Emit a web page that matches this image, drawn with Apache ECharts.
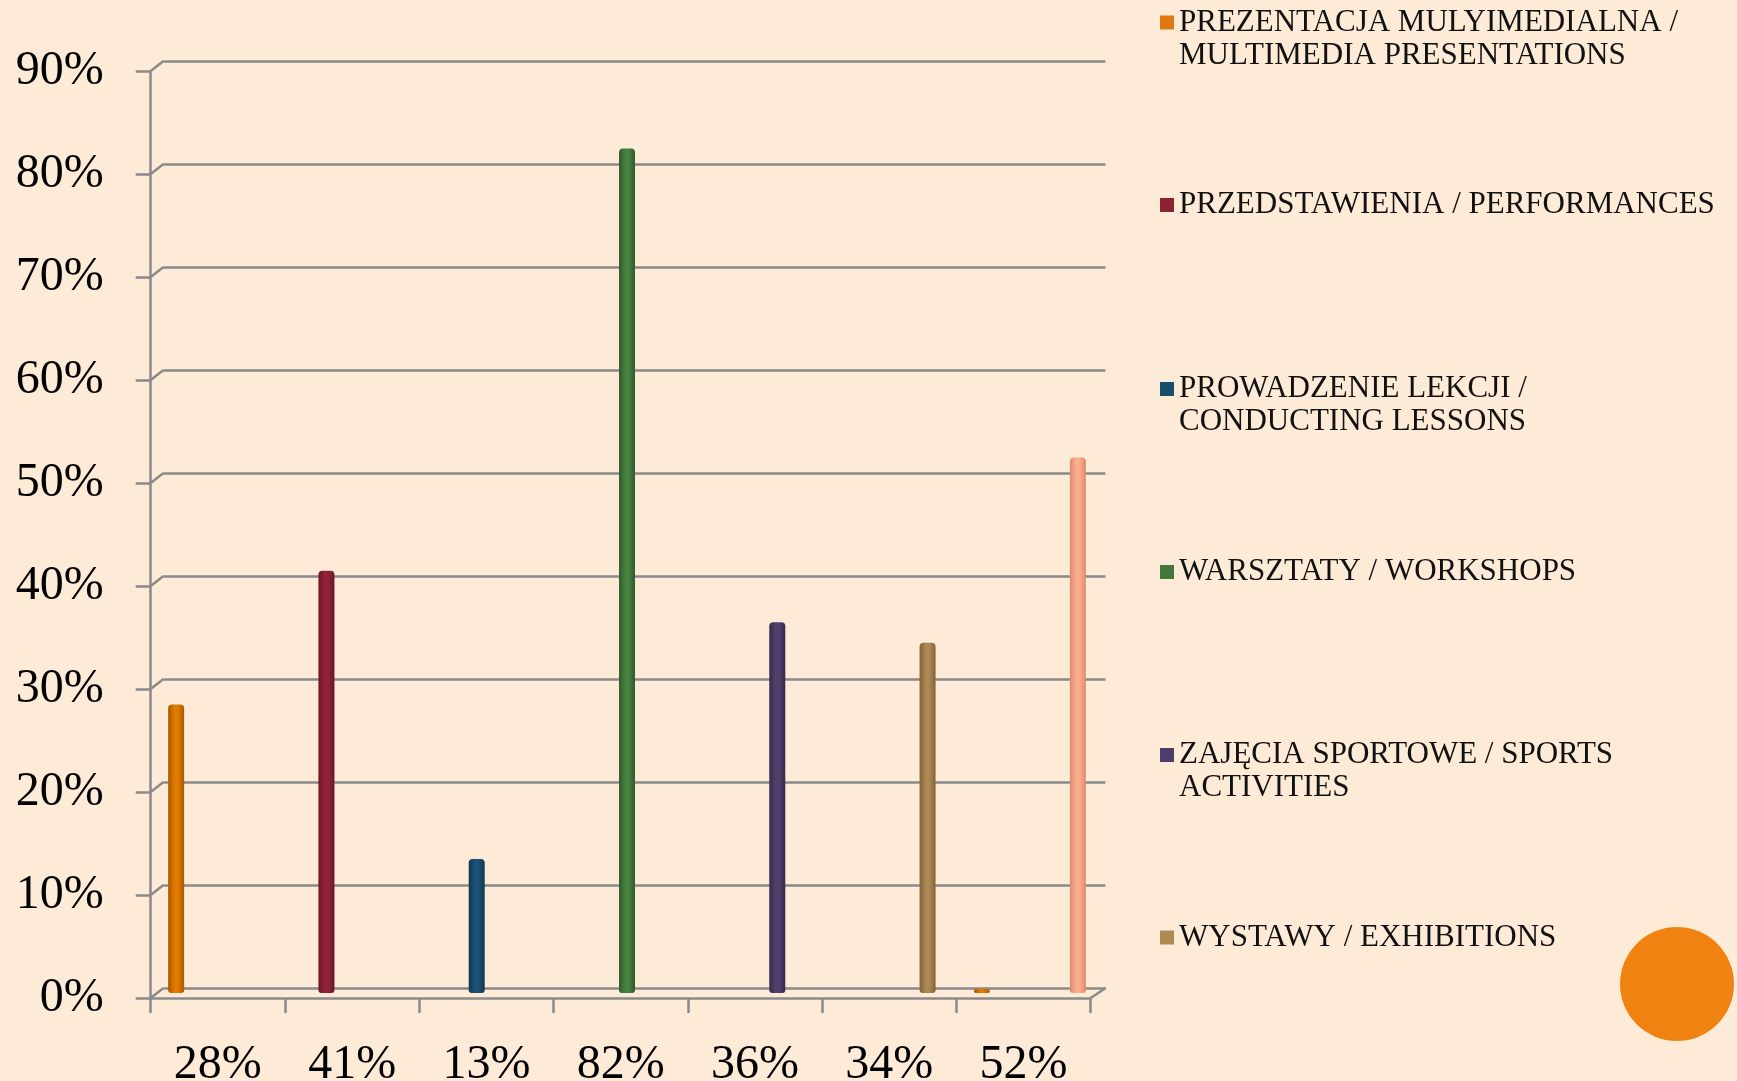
<!DOCTYPE html>
<html><head><meta charset="utf-8">
<script src="https://cdn.jsdelivr.net/npm/echarts@6/dist/echarts.min.js"></script>
<style>html,body{margin:0;padding:0;background:#FDEBD7;} #c{width:1737px;height:1081px;}</style>
</head><body><div id="c"></div>
<script>
// ---------- DATA ----------
const categories = ['28%', '41%', '13%', '82%', '36%', '34%', '52%'];
const seriesNames = [
  'PREZENTACJA MULYIMEDIALNA / MULTIMEDIA PRESENTATIONS',
  'PRZEDSTAWIENIA / PERFORMANCES',
  'PROWADZENIE LEKCJI / CONDUCTING LESSONS',
  'WARSZTATY / WORKSHOPS',
  'ZAJĘCIA SPORTOWE / SPORTS ACTIVITIES',
  'WYSTAWY / EXHIBITIONS'
];
const legendLabels = [
  'PREZENTACJA MULYIMEDIALNA /\nMULTIMEDIA PRESENTATIONS',
  'PRZEDSTAWIENIA / PERFORMANCES',
  'PROWADZENIE LEKCJI /\nCONDUCTING LESSONS',
  'WARSZTATY / WORKSHOPS',
  'ZAJĘCIA SPORTOWE / SPORTS\nACTIVITIES',
  'WYSTAWY / EXHIBITIONS'
];
const multimedia   = [28, null, null, null, null, null, 0];
const performances = [null, 41, null, null, null, null, null];
const lessons      = [null, null, 13, null, null, null, null];
const workshops    = [null, null, null, 82, null, null, null];
const sports       = [null, null, null, null, 36, null, null];
const exhibitions  = [null, null, null, null, null, 34, null];
const seventh      = [null, null, null, null, null, null, 52];
const yTicks = [0, 10, 20, 30, 40, 50, 60, 70, 80, 90];

// ---------- STYLE ----------
const FONT = 'Liberation Serif';
const GRID_COL = '#8a8a8a';
const baseColors = ['#E07A00', '#92233A', '#1C5275', '#478240', '#52406E', '#AD8853', '#FBAE8D'];
const darkColors = ['#A85900', '#681824', '#113750', '#305A2B', '#362A4B', '#81643A', '#DB8C6A'];
const legendColors = ['#DD7812', '#8B2232', '#1A4C6C', '#44783A', '#4E3C6A', '#AC8A52'];
const legendCenters = [22.5, 205, 389, 572, 755, 937.5];

function cyl(i) {
  return new echarts.graphic.LinearGradient(0, 0, 1, 0, [
    { offset: 0, color: darkColors[i] },
    { offset: 0.4, color: baseColors[i] },
    { offset: 0.6, color: baseColors[i] },
    { offset: 1, color: darkColors[i] }
  ]);
}

const allData = [multimedia, performances, lessons, workshops, sports, exhibitions, seventh];

const chart = echarts.init(document.getElementById('c'), null, { renderer: 'canvas' });

const LH = 33;
const legends = seriesNames.map((n, i) => {
  const twoLine = legendLabels[i].indexOf('\n') >= 0;
  return {
    data: [n],
    orient: 'vertical',
    left: 1160,
    top: legendCenters[i] - (twoLine ? LH * 1.5 : LH * 0.5),
    padding: 0,
    icon: 'rect',
    itemWidth: 14,
    itemHeight: 14,
    selectedMode: false,
    itemStyle: { color: legendColors[i] },
    // a leading empty line keeps the first text line level with the square
    formatter: () => (twoLine ? '\n' : '') + legendLabels[i],
    textStyle: { fontFamily: FONT, fontSize: 31, lineHeight: LH, color: '#111' }
  };
});

const barSeries = allData.map((d, i) => ({
  type: 'bar',
  name: i < seriesNames.length ? seriesNames[i] : undefined,
  xAxisIndex: 1, yAxisIndex: 1,
  data: d,
  barWidth: 16,
  barGap: '0%',
  barMinHeight: i === 0 ? 4 : 0,
  itemStyle: { color: cyl(i), borderRadius: [4, 4, 3, 3] },
  z: 3
}));

const option = {
  backgroundColor: '#FDEBD7',
  animation: false,
  textStyle: { fontFamily: FONT },
  legend: legends,
  grid: [
    { left: 163.5, top: 61, width: 942, height: 927, outerBoundsMode: 'none', containLabel: false },
    { left: 157, top: 66, width: 940, height: 927, outerBoundsMode: 'none', containLabel: false },
    { left: 150.7, top: 71, width: 940, height: 927, outerBoundsMode: 'none', containLabel: false }
  ],
  xAxis: [
    { gridIndex: 0, type: 'category', data: categories, axisLine: { show: false }, axisTick: { show: false }, axisLabel: { show: false } },
    { gridIndex: 1, type: 'category', data: categories, show: false },
    {
      gridIndex: 2, type: 'category', data: categories,
      axisLine: { show: true, lineStyle: { color: GRID_COL, width: 2.5 } },
      axisTick: { show: true, length: 15, lineStyle: { color: GRID_COL, width: 2.5 } },
      axisLabel: { interval: 0, fontFamily: FONT, fontSize: 48, color: '#000', margin: 43 },
      splitLine: { show: false }
    }
  ],
  yAxis: [
    {
      gridIndex: 0, type: 'value', min: 0, max: 90, interval: 10,
      axisLine: { show: false }, axisTick: { show: false }, axisLabel: { show: false },
      splitLine: { show: true, lineStyle: { color: GRID_COL, width: 2.5 } }
    },
    { gridIndex: 1, type: 'value', min: 0, max: 90, interval: 10, show: false, splitLine: { show: false } },
    {
      gridIndex: 2, type: 'value', min: 0, max: 90, interval: 10,
      axisLine: { show: true, lineStyle: { color: GRID_COL, width: 2.5 } },
      axisTick: { show: true, length: 15, lineStyle: { color: GRID_COL, width: 2.5 } },
      axisLabel: { fontFamily: FONT, fontSize: 48, color: '#000', margin: 47, formatter: '{value}%' },
      splitLine: { show: false }
    }
  ],
  series: [
    {
      type: 'custom',
      xAxisIndex: 2, yAxisIndex: 2,
      clip: false,
      silent: true,
      z: 1,
      data: yTicks.map(v => [0, v]),
      renderItem: function (params, api) {
        const cs = params.coordSys;
        const v = api.value(1);
        const y = api.coord([0, v])[1];
        const st = { stroke: GRID_COL, lineWidth: 2.5 };
        const children = [{ type: 'line', shape: { x1: cs.x, y1: y, x2: cs.x + 12.8, y2: y - 10 }, style: st }];
        if (v === 0) {
          children.push({ type: 'line', shape: { x1: cs.x + cs.width, y1: y, x2: cs.x + cs.width + 15, y2: y - 10 }, style: st });
        }
        return { type: 'group', children: children };
      }
    }
  ].concat(barSeries),
  graphic: [
    { type: 'circle', shape: { cx: 1677, cy: 984, r: 57 }, style: { fill: '#EF8210' }, z: 10 }
  ]
};
chart.setOption(option);
</script>
</body></html>
